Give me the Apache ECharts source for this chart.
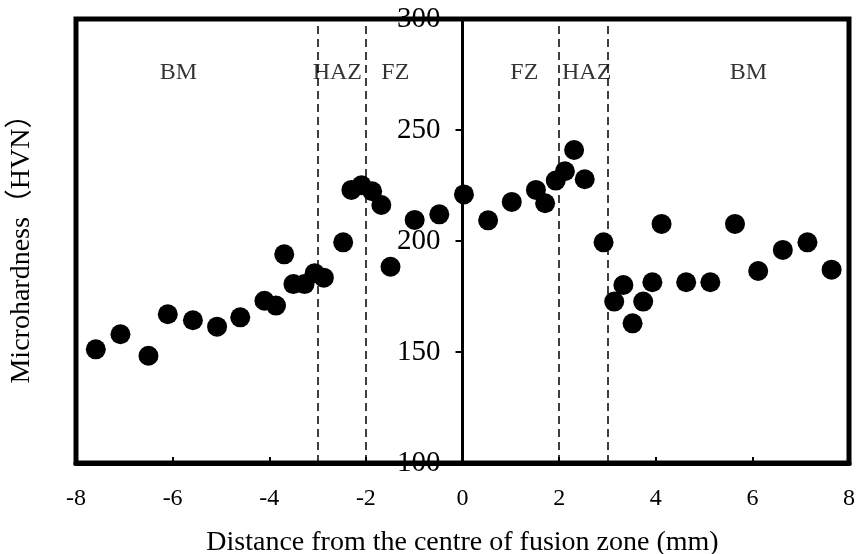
<!DOCTYPE html>
<html>
<head>
<meta charset="utf-8">
<script src="https://cdn.jsdelivr.net/npm/echarts@6/dist/echarts.min.js"></script>
<style>html,body{margin:0;padding:0;background:#fff;}#c{width:857px;height:554px;}</style>
</head>
<body>
<div id="c"></div>
<script>
// Data
var distance = [-7.59,-7.08,-6.50,-6.10,-5.58,-5.08,-4.60,-4.10,-3.86,-3.69,-3.50,-3.27,-3.06,-2.87,-2.47,-2.30,-2.09,-1.87,-1.68,-1.49,-0.99,-0.48,0.03,0.53,1.02,1.52,1.71,1.93,2.12,2.31,2.53,2.92,3.14,3.33,3.52,3.74,3.93,4.12,4.63,5.13,5.64,6.12,6.63,7.14,7.64];
var hardness = [151.2,158.0,148.3,167.0,164.3,161.4,165.6,173.1,170.9,194.0,180.6,180.6,185.5,183.5,199.4,223.0,225.1,222.4,216.2,188.4,209.5,212.0,221.0,209.3,217.6,223.0,217.0,227.2,231.4,241.0,227.8,199.4,172.7,180.2,162.9,172.7,181.4,207.7,181.4,181.4,207.7,186.5,196.0,199.4,187.1];
var boundaries = [-3, -2, 2, 3];
var zoneNames = ['BM', 'HAZ', 'FZ', 'FZ', 'HAZ', 'BM'];
var zoneX = [-5.88, -2.59, -1.39, 1.28, 2.57, 5.92];
var zoneY = [276, 276, 276, 276, 276, 276];
var xTicks = [-8, 8, 2];
var yTicks = [100, 300, 50];
var xTitle = 'Distance from the centre of fusion zone (mm)';
var yTitle = 'Microhardness\uFF08HVN\uFF09';

var serif = "'Liberation Serif', 'Times New Roman', serif";
var gridLeft = 76, gridRight = 8;
var W = 857;
var chart = echarts.init(document.getElementById('c'), null, {renderer: 'canvas'});
var pts = distance.map(function (d, i) { return [d, hardness[i]]; });
var zonePts = zoneNames.map(function (n, i) { return {name: n, value: [zoneX[i], zoneY[i]]}; });
// y axis sits at x = 0 of the x scale: offset it inward from the grid's left edge
var plotW = W - gridLeft - gridRight;
var zeroOffset = -plotW * (0 - xTicks[0]) / (xTicks[1] - xTicks[0]);

chart.setOption({
  animation: false,
  backgroundColor: '#fff',
  grid: {left: gridLeft, right: gridRight, top: 19, bottom: 91, show: true, borderColor: '#000', borderWidth: 5, backgroundColor: 'transparent', outerBoundsMode: 'none', containLabel: false},
  xAxis: {
    type: 'value', min: xTicks[0], max: xTicks[1], interval: xTicks[2],
    splitLine: {show: false},
    axisLine: {show: true, onZero: false, lineStyle: {color: '#000', width: 5}},
    axisTick: {show: true, inside: true, length: 6, lineStyle: {color: '#000', width: 2}},
    axisLabel: {color: '#000', fontFamily: serif, fontSize: 24, margin: 24},
    name: xTitle, nameLocation: 'middle', nameGap: 66,
    nameTextStyle: {color: '#000', fontFamily: serif, fontSize: 28}
  },
  yAxis: {
    type: 'value', min: yTicks[0], max: yTicks[1], interval: yTicks[2],
    position: 'left', offset: zeroOffset,
    splitLine: {show: false},
    axisLine: {show: true, onZero: false, lineStyle: {color: '#000', width: 3}},
    axisTick: {show: true, inside: false, length: 7, lineStyle: {color: '#000', width: 2}},
    axisLabel: {color: '#000', fontFamily: serif, fontSize: 29, margin: 22}
  },
  graphic: [{
    type: 'text', x: 22, y: 242, rotation: Math.PI / 2,
    style: {text: yTitle, fill: '#000', font: "28px 'Liberation Serif', 'Noto Sans CJK SC', serif", textAlign: 'center', textVerticalAlign: 'middle'}
  }],
  series: [{
    type: 'scatter',
    data: pts,
    symbol: 'circle',
    symbolSize: 20,
    itemStyle: {color: '#000', opacity: 1},
    z: 5,
    markLine: {
      silent: true, symbol: 'none', animation: false,
      label: {show: false},
      lineStyle: {color: '#000', width: 1.5, type: [8, 5]},
      data: boundaries.map(function (b) { return {xAxis: b}; })
    }
  }, {
    type: 'scatter',
    data: zonePts,
    symbolSize: 0,
    silent: true,
    label: {show: true, position: 'inside', formatter: '{b}', color: '#000', fontFamily: serif, fontSize: 24}
  }]
});
</script>
</body>
</html>
